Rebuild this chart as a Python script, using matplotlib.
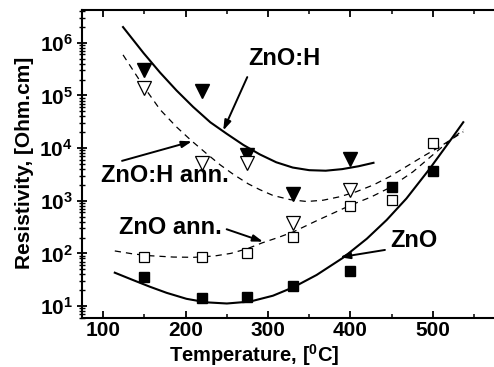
import numpy as np
import matplotlib.pyplot as plt

plt.rcParams['font.family'] = ['Liberation Sans', 'DejaVu Sans']
plt.rcParams['font.weight'] = 'bold'
plt.rcParams['axes.labelweight'] = 'bold'
plt.rcParams['mathtext.fontset'] = 'custom'
plt.rcParams['mathtext.rm'] = 'Liberation Sans:bold'
plt.rcParams['mathtext.bf'] = 'Liberation Sans:bold'
plt.rcParams['mathtext.it'] = 'Liberation Sans:bold'

# measured points
temp_h = [150, 220, 275, 330, 400]
rho_znoh = [3.07e5, 1.19e5, 7.4e3, 1.35e3, 6.2e3]
rho_znoh_ann = [1.38e5, 5.2e3, 5.1e3, 384, 1.6e3]

temp_z = [150, 220, 275, 330, 400, 450, 500]
rho_zno = [35, 14, 15, 24, 47, 1.85e3, 3.73e3]
rho_zno_ann = [86, 84, 103, 202, 795, 1035, 1.24e4]

# fit curves (log10 of resistivity)
fit_znoh_t = [124, 149, 169, 189, 209, 230, 250, 270, 290, 310, 330, 350, 370, 390, 410, 428]
fit_znoh_log = [6.298, 5.803, 5.433, 5.093, 4.783, 4.489, 4.27, 4.06, 3.88, 3.73,
                3.63, 3.58, 3.57, 3.60, 3.655, 3.72]

fit_znoh_ann_t = [124, 149, 169, 189, 207, 225, 242, 258, 276, 290, 306, 327, 347, 367,
                  387, 407, 428, 448, 468, 488, 509, 537]
fit_znoh_ann_log = [5.77, 5.17, 4.73, 4.40, 4.14, 3.90, 3.68, 3.50, 3.32, 3.21, 3.10, 3.02,
                    2.985, 3.01, 3.075, 3.17, 3.30, 3.46, 3.65, 3.84, 4.03, 4.31]

fit_zno_ann_t = [114, 136, 157, 185, 210, 235, 255, 275, 293, 312, 331, 359, 380, 401,
                 425, 448, 476, 509, 537]
fit_zno_ann_log = [2.046, 1.99, 1.955, 1.93, 1.925, 1.95, 2.00, 2.09, 2.20, 2.30, 2.41,
                   2.62, 2.77, 2.92, 3.07, 3.25, 3.55, 3.99, 4.35]

fit_zno_t = [114, 136, 157, 177, 201, 225, 250, 278, 306, 331, 359, 391, 420, 444, 468,
             496, 523, 537]
fit_zno_log = [1.633, 1.494, 1.364, 1.250, 1.137, 1.070, 1.048, 1.084, 1.196, 1.358, 1.590,
               1.916, 2.279, 2.634, 3.042, 3.602, 4.183, 4.491]

fig = plt.figure(figsize=(4.94, 3.67), dpi=100)
ax = fig.add_axes([82 / 494, 1 - 317.7 / 367, 420 / 494, 307.7 / 367])

ax.plot(fit_znoh_t, 10 ** np.array(fit_znoh_log), 'k-', lw=1.5)
ax.plot(fit_znoh_ann_t, 10 ** np.array(fit_znoh_ann_log), 'k--', lw=0.9, dashes=(5, 4))
ax.plot(fit_zno_ann_t, 10 ** np.array(fit_zno_ann_log), 'k--', lw=0.9, dashes=(5, 4))
ax.plot(fit_zno_t, 10 ** np.array(fit_zno_log), 'k-', lw=1.5)

ax.plot(temp_h, rho_znoh, 'v', ms=10, mfc='k', mec='k', ls='none')
ax.plot(temp_h, rho_znoh_ann, 'v', ms=10, mfc='white', mec='k', mew=0.9, ls='none')
ax.plot(temp_z, rho_zno, 's', ms=7.5, mfc='k', mec='k', ls='none')
ax.plot(temp_z, rho_zno_ann, 's', ms=7.5, mfc='white', mec='k', mew=0.9, ls='none')

arrow = dict(arrowstyle='-|>,head_length=0.6,head_width=0.2', color='k', lw=1.4,
             shrinkA=0, shrinkB=0)
ax.text(320, 4.97e5, 'ZnO:H', fontsize=17, ha='center', va='center')
ax.annotate('', xy=(245.6, 10 ** 4.333), xytext=(274.8, 10 ** 5.348), arrowprops=arrow)
ax.text(175, 10 ** 3.471, 'ZnO:H ann.', fontsize=17, ha='center', va='center')
ax.annotate('', xy=(207.6, 10 ** 4.127), xytext=(122.8, 10 ** 3.757), arrowprops=arrow)
ax.text(181, 10 ** 2.483, 'ZnO ann.', fontsize=17, ha='center', va='center')
ax.annotate('', xy=(294, 10 ** 2.222), xytext=(249.8, 10 ** 2.458), arrowprops=arrow)
ax.text(477, 10 ** 2.236, 'ZnO', fontsize=17, ha='center', va='center')
ax.annotate('', xy=(387.3, 10 ** 1.926), xytext=(441.9, 10 ** 2.065), arrowprops=arrow)

ax.set_yscale('log')
ax.set_xlim(74.2, 584)
ax.set_ylim(6, 4.19e6)
ax.set_xticks([100, 200, 300, 400, 500])
ax.set_xticks([150, 250, 350, 450, 550], minor=True)
ax.set_yticks([1e1, 1e2, 1e3, 1e4, 1e5, 1e6])
ax.set_yticklabels([r'$10^{%d}$' % k for k in range(1, 7)])

ax.tick_params(axis='x', which='major', direction='in', length=5, width=1.3,
               top=True, labelsize=15, pad=2.5)
ax.tick_params(axis='x', which='minor', direction='in', length=3, width=1.1, top=True)
ax.tick_params(axis='y', which='major', direction='inout', length=7, width=1.3,
               labelsize=15, pad=3)
ax.tick_params(axis='y', which='minor', direction='inout', length=4, width=1.0)
for s in ax.spines.values():
    s.set_linewidth(1.5)

ax.set_xlabel(r'Temperature, [$^{0}$C]', fontsize=14.5, fontweight='bold')
ax.xaxis.set_label_coords((254.5 - 82) / 420, -0.08)
ax.set_ylabel('Resistivity, [Ohm.cm]', fontsize=15, fontweight='bold')
ax.yaxis.set_label_coords(-0.1145, 0.503)

fig.savefig('out.png', dpi=100)
